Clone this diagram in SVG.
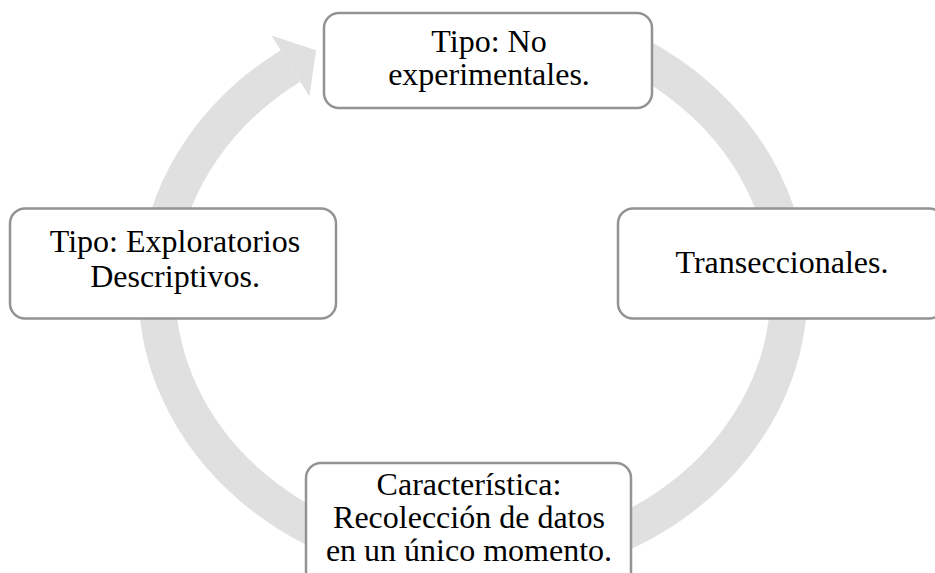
<svg xmlns="http://www.w3.org/2000/svg" width="935" height="573" viewBox="0 0 935 573">
  <style>
    .box { fill: #ffffff; stroke: #939393; stroke-width: 2.5; }
    .ring { fill: none; stroke: #e0e0e0; stroke-width: 37; }
    .head { fill: #e0e0e0; }
    .t { font-family: "Liberation Serif", "Times New Roman", serif; font-size: 32px; fill: #000000; text-anchor: middle; }
  </style>
  <rect width="935" height="573" fill="#ffffff"/>
  <g id="connectors">
    <path class="ring" d="M 600 38.6 A 316 275 0 1 1 290.5 66"/>
    <polygon class="head" points="271.5,35.5 316,50.2 309.5,96.5"/>
  </g>
  <g id="node-top">
    <rect class="box" x="324" y="13" width="328" height="95" rx="15"/>
    <text class="t" x="489" y="51.5">Tipo: No</text>
    <text class="t" x="489" y="84.5">experimentales.</text>
  </g>
  <g id="node-right">
    <rect class="box" x="618" y="208.5" width="326" height="110" rx="15"/>
    <text class="t" x="782" y="273">Transeccionales.</text>
  </g>
  <g id="node-bottom">
    <rect class="box" x="306" y="463" width="325" height="125" rx="15"/>
    <text class="t" x="469" y="495">Característica:</text>
    <text class="t" x="469" y="528">Recolección de datos</text>
    <text class="t" x="469" y="561">en un único momento.</text>
  </g>
  <g id="node-left">
    <rect class="box" x="10" y="208.5" width="326" height="110" rx="15"/>
    <text class="t" x="175" y="252">Tipo: Exploratorios</text>
    <text class="t" x="175" y="287">Descriptivos.</text>
  </g>
</svg>
